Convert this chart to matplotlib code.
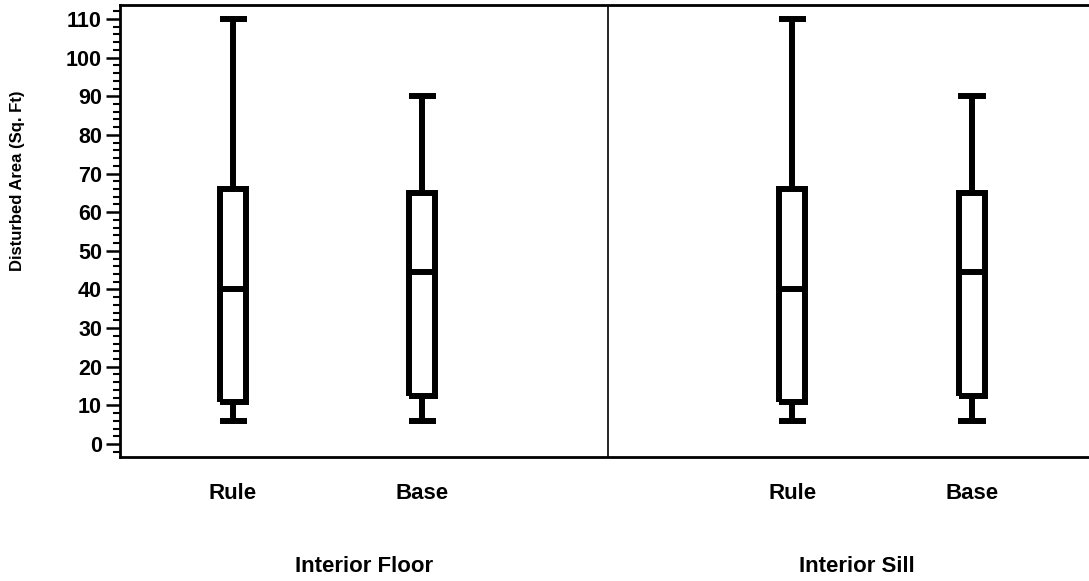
import matplotlib
matplotlib.use('Agg')
import matplotlib.pyplot as plt
from matplotlib.ticker import MultipleLocator

plt.rcParams['font.family'] = ['Liberation Sans', 'DejaVu Sans']
plt.rcParams['font.weight'] = 'bold'
plt.rcParams['lines.solid_capstyle'] = 'butt'
plt.rcParams['lines.solid_joinstyle'] = 'miter'

# data
groups = ['Interior Floor', 'Interior Sill']
categories = ['Rule', 'Base', 'Rule', 'Base']
whis_low = [6, 6, 6, 6]
q1 = [11, 12.5, 11, 12.5]
median = [40, 44.5, 40, 44.5]
q3 = [66, 65, 66, 65]
whis_high = [110, 90, 110, 90]

positions = [1.0, 2.0, 3.96, 4.91]
divider = 2.984
x_range = (0.402, 5.619)

fig = plt.figure(figsize=(10.89, 5.81), dpi=100)
ax = fig.add_axes([120 / 1089, 124 / 581, 986 / 1089, 452 / 581])

stats = []
for i in range(len(categories)):
    stats.append({'whislo': whis_low[i], 'q1': q1[i], 'med': median[i],
                  'q3': q3[i], 'whishi': whis_high[i], 'fliers': []})

lw = 4.3
ax.bxp(stats, positions=positions, widths=0.138, capwidths=0.143,
       showfliers=False,
       boxprops=dict(color='black', linewidth=lw),
       medianprops=dict(color='black', linewidth=lw),
       whiskerprops=dict(color='black', linewidth=lw),
       capprops=dict(color='black', linewidth=lw))

ax.axvline(divider, color='black', linewidth=1.2)

ax.set_xlim(*x_range)
ax.set_ylim(-3.36, 113.62)
ax.set_xticks(positions)
ax.set_xticklabels(categories, fontsize=16, fontweight='bold')
ax.tick_params(axis='x', length=0, pad=19)

ax.yaxis.set_major_locator(MultipleLocator(10))
ax.yaxis.set_minor_locator(MultipleLocator(2))
ax.set_yticks(range(0, 111, 10))
ax.tick_params(axis='y', which='major', length=10, width=1.8, labelsize=15.5, pad=3)
ax.tick_params(axis='y', which='minor', length=5, width=1.5)
for lab in ax.get_yticklabels():
    lab.set_fontweight('bold')

for side in ['left', 'bottom', 'top']:
    ax.spines[side].set_linewidth(2)
ax.spines['right'].set_visible(False)

# y label sits above the axes middle in the reference
fig.text(18 / 1089, 1 - 181 / 581, 'Disturbed Area (Sq. Ft)', rotation=90,
         ha='center', va='center', fontsize=12, fontweight='bold')

# group labels under each panel
centers = [(x_range[0] + divider) / 2, (divider + x_range[1]) / 2]
for c, g in zip(centers, groups):
    ax.text(c, -0.243, g, transform=ax.get_xaxis_transform(), ha='center',
            va='center', fontsize=16, fontweight='bold')

fig.savefig('out.png', dpi=100)
